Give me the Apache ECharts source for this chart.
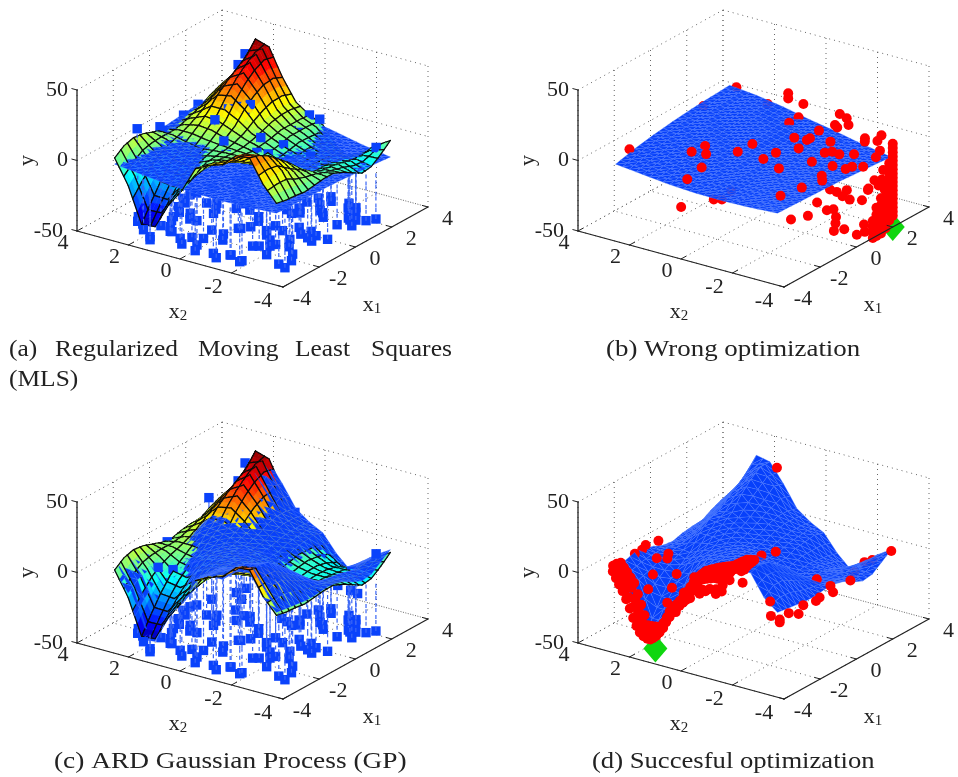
<!DOCTYPE html>
<html><head><meta charset="utf-8">
<style>html,body{margin:0;padding:0;background:#fff}#c{width:958px;height:777px}</style>
<script src="https://cdn.jsdelivr.net/npm/echarts@6/dist/echarts.min.js"></script></head>
<body><div id="c"></div>
<script>
// ---- tick labels ----
const x1Ticks=[-4,-2,0,2,4];
const x2Ticks=[4,2,0,-2,-4];
const yTicks=[-50,0,50];
// ---- surfaces: rows x1 from -pi to pi, columns x2 from pi to -pi ----
const trueSurface=[
[0,-17,-42,-41,-23,-10,8,13,16,25,26,10,-1],
[5,-10,-30,-30,-17,-6,6,11,15,22,24,12,-2.5],
[7,-4,-19,-20,-11,-3,4,8,11,17,20,12,-3],
[6,-1,-10,-12,-6,-1,2,4,6,10,14,7,-4],
[3.5,1,-4,-6,-3,-1,0,0,0,3,8,3,-3],
[1,2,1,-1,-1,-1,-1,-3,-4,-4,1,0,-2],
[0,4,6,5,2,0,-2,-5,-8,-9,-8,-4,-2],
[2,7,12,11,7,2,-1,-5,-9,-10,-9,-5,-5],
[3,10,20,22,15,5,0,-4,-7,-9,-9,-6,-9],
[3,13,26,31,21,8,2,-2,-6,-9,-10,-8,-13],
[7,17,31,38,25,10,2,-2,-7,-11,-11,-10,-12],
[10,20,36,43,26,10,2,-2,-9,-15,-14,-9,-7],
[12,24,45,42,23,8,1.5,-3,-15,-23,-14,-7,-1]];
const gpSurface=[
[-1,-14,-44,-43,-22,-11,9,14,14,22,24,9,1],
[3,-8,-33,-32,-19,-7,8,13,17,24,26,14,0],
[5,-6,-21,-22,-13,-1,8,12,14,20,24,14,-1],
[4,-3,-12,-14,-2,3,6,8,9,14,18,10,-2],
[2,-1,-6,-2,3,5,6,5,4,7,12,6,-2],
[-1,0,-1,3,5,6,5,3,1,0,5,3,-1],
[-2,2,9,9,7,6,4,-1,-5,-6,-5,-2,-1],
[0,5,15,14,11,6,2,-3,-11,-12,-11,-3,-3],
[1,8,17,19,14,8,3,-3,-9,-11,-11,-4,-7],
[1,11,23,28,19,12,5,0,-8,-11,-12,-6,-10],
[5,15,28,35,23,14,6,1,-9,-13,-13,-8,-9],
[8,18,33,40,29,14,6,2,-10,-16,-12,-6,-4],
[10,22,42,40,27,12,5,0,-12,-21,-12,-5,1]];
const mlsSurface=[
[-4.4,-6.5,-8.5,-9.6,-9.8,-9.2,-8],
[-1,-3.5,-6,-7.5,-8.5,-8.5,-8.5],
[1.5,-1,-3.5,-6,-7.5,-8.5,-9],
[3.5,1,-2,-4.5,-7,-8.5,-9.5],
[5,2.5,-.5,-3.5,-6.5,-8.8,-10.5],
[6,4,.8,-2.5,-6,-9,-11.5],
[7,5,2,-2,-5.5,-9.5,-12.7]];
// ---- blue samples lying low in the box: x1, x2 (height floorY) ----
const floorY=-44;
const lowSamples=[[1.68,-3.61],[1.39,-3.43],[1.24,-3.14],[.79,-3.3],[1.14,-2.98],[.59,-2.87],[1.61,-2.62],[2.07,-2.56],[2.24,-2.17],[2.35,-1.39],[1.6,-1.49],[1.13,-1.93],[.94,-1.18],[.52,-1.15],[-.3,-.45],[-1.12,-.72],[-1.41,-.54],[-1.09,-1.31],[-.6,-1.32],[-.8,-1.73],[-.28,-2.01],[-.7,-2.37],[-.33,-2.51],[-.53,-2.84],[-.82,-2.72],[-.97,-2.98],[-.56,-3.31],[-1.25,-2.33],[-1.76,-2.66],[-1.85,-2.2],[-1.66,-1.85],[-1.38,-1.52],[-2.06,-2.13],[-2.26,-1.85],[-2.38,-1.68],[-2.19,-3.1],[-2.65,-3.38],[-3.11,-3.21],[-3.24,-3.54],[-2.7,-2.45],[-3.55,-2.09],[-3.37,-1.54],[-.15,.52],[-.02,.09],
[-3.62,1.43],[-2.49,2.68],[-2.9,2.22],[-2.58,1.38],[-2.88,1.1],[-3.18,.57],[-3.53,.26],[-3.73,-.4],[-3.32,-.18],[-2.9,.31],[-2.76,-.04],[-2.05,.14],[-2.1,-.35],[-2.52,-.62],[-3.58,-1],[-3.82,-1.28],[-3.38,-1.51],[-1.45,-.47],[-3.66,-2.08],[-1.69,.97],[-1.32,1.49],[-.9,.88],[-.16,1.27],[-1.85,1.77],[-1.09,2.11],[-.44,2.37],
[1.71,1.83],[1.36,1.38],[2.18,1.77],[.53,1.03],[.3,.54],[.35,.34],[-.61,-.66],[.81,-.57],[.68,-.85],[.7,-1.35],[1.56,-1.01],[2.04,-1.12],[1.22,-1.76],[2.05,-1.61],[1.91,-2.37],[1.76,-2.77],[1.24,-2.85],[.84,-2.16],[1.02,-1.09],[.82,2.16],[-.57,1.02],[-.33,1.55],[.16,2.28],[-.08,2.37],[-.72,2.11],[-1.45,1.82],[-1.71,1.23],[-2.89,1.16],[-2.15,1.63],[-2.81,2.48],[-3.27,1.93],[-3.82,1.29],[-2.68,1.67]];
// ---- blue samples near the surface: x1, x2, y ----
const upperSamplesA=[[-2.1,3,14],[-1.7,3.1,-1],[.6,3.1,4],[-.7,3.1,5],[1.4,3.1,6],[.2,1.6,11],[.8,1.5,15],[-.7,3,3],[3,-.1,3],[3,-.5,2],[2,-.1,-1],[2.1,-.3,-2],[.6,.1,3],[1,-.5,-2],[.1,-.1,-3],[.3,-.4,-4],[2.7,-2.9,-4],[1.2,-1.4,-7],[.6,-1,-8],[-.3,.9,3],[-.6,.6,-3],[3,2.4,34],[2.9,2.6,26],[2.8,1.6,32],[1.3,1,17],[1.5,1.1,12],[1.1,1.2,16],[1,1,10]];
const upperSamplesC=[[2,3.1,15],[3,2.4,36],[2.9,2.1,29],[2.9,2.6,23],[2.8,1.6,30],[1.5,1,13],[1.1,1.3,11],[3.05,.5,10],[-.3,3.1,0],[-1.8,2.4,-4],[-1.4,2.1,-7],[-2.2,2.7,-7],[-1.2,1.4,-8],[-1.4,1.3,-12],[-.9,1.6,-4],[.1,.4,2],[.7,-.1,0],[1,-.5,-5],[1.2,-1,-10],[2,-1,-10],[2.2,-1.1,-9],[2.7,-2.9,0],[2.2,-2.3,-12],[3,-1.2,-33],[3,-1.7,-34],[3.1,-1.9,-36]];
// ---- red evaluations, wrong optimization: x1, x2, y ----
const redWrongScatter=[[3.79,3.33,0],[1.94,3.31,0],[-2.31,3.19,0],[-.71,1.38,0],[-1.24,.97,0],[-2.22,.45,0],[-1.34,1.46,0],[-3.27,.27,0],[-2.87,.79,-25],[-1.78,.29,-25],[-1.63,.08,-25],[-.91,.23,-25],[-.5,.26,0],[.28,.24,0],[-.52,-.75,0],[.13,-.78,0],[-.87,-1.6,0],[-2.67,-2.93,0],[-1.74,-3.1,0],[.18,-2.14,0],[.83,-1.17,0],[1.47,-.55,0],[2.38,.29,0],[2.91,.3,0],[3.24,1.73,0],[2.44,.37,20],[2.1,.13,20],[2,-.53,20],[3.88,-.62,0],[3.72,-1,0],[3.06,-1.01,0],[2.93,-1.19,0],[3.31,-1.36,0],[2.71,-2.42,0],[2.49,-2.57,0],[3.21,-2.71,0],[2.76,-2.87,0],[2.16,-3.39,0],[1.64,-3.6,0],[1.71,-.99,0],[1.54,-.99,0],[2.39,-.86,0],[1.86,-1.68,0],[1.02,-2.05,0],[1.22,-2.2,0],[1.17,-2.51,0],[1.44,-2.89,0],[.27,-2.88,0],[.31,-3.36,0],[.58,-3.42,0],[.78,-3.71,0],[-.58,-3.06,0],[-.9,-3.3,0],
[1.01,-2.26,-25],[-.1,-2.54,-25],[-1.71,-2.66,-25],[-1.16,-2.93,-25],[-.44,-3.16,-25],[-.25,-3.28,-25],[.97,-2.55,-25],[1.27,-2.73,-25],[.79,-2.9,-25],[.69,-3.25,-25],[-.72,-3.71,-25],[-1.16,-4,-25],[-.45,-3.84,-35],[-.75,-3.65,-35],[.36,-3.76,-45],[.87,-3.6,-25],[1.77,-3.22,-25],[2.44,-2.98,-25],[2.62,-3.14,-25],[1.87,-3.72,-10]];
const redColumnY=[9,6,3,0,-3,-6,-9,-12,-15,-18,-21,-24,-27,-30,-33,-36,-39,-42];
const redLump=[[.9,-4,-50],[.9,-4,-46],[.9,-4,-42],[.9,-4,-38],[1.1,-4,-50],[1.1,-4,-45],[1.1,-4,-40],[1.1,-4,-35],[1.1,-4,-30],[1.35,-4,-50],[1.35,-4,-45],[1.35,-4,-40],[1.35,-4,-35],[1.35,-4,-30],[1.35,-4,-25],[1.6,-4,-48],[1.6,-4,-44],[1.6,-4,-38],[1.6,-4,-32],[1.6,-4,-26],[1.6,-4,-20],[1.6,-4,-15],[1.8,-4,-44],[1.8,-4,-38],[1.8,-4,-32],[1.8,-4,-26],[1.8,-4,-20],[1.8,-4,-14],[1.8,-4,-10],[1.95,-3.9,-5],[1.7,-3.9,-22],[1.5,-3.8,-18],[1.2,-3.6,-20],[.7,-3.8,-40],[.6,-3.9,-44]];
// ---- red evaluations, successful optimization ----
const trailX2=[3.14,3.02,2.9,2.76,2.62,2.48,2.35,2.22,2.09,1.95,1.8,1.68,1.57,1.44,1.3,1.18,1.05,.92,.8,.66,.52,.39,.26,.13,0,-.13,-.26,-.39,-.52,-.66,-.8,-.92,-1.05,-1.18,-1.3,-1.44,-1.57,-1.7,-1.85];
const trailY=[0,-4,-8,-12,-17,-23,-29,-34,-38,-40,-41,-41,-39,-36,-32,-27,-23,-19,-16,-13,-10,-5,0,4,8,10,11,12,13,14,15,15,16,18,20,23,25,26,25];
const trailRowsX1=[-3.3,-3.14,-3,-2.86];
const trailLift=[0,0,3,5];
const innerRowsX1=[-2.72,-2.58];
const innerLift=[2.5,3];
const ridgeRowsX1=[-2.44,-2.3,-3.55];
const ridgeX2=[.52,.26,0,-.26,-.52,-.8,-1.05,-1.3,-1.57];
const ridgeLowY=[-14,-6,3,5,7,9,10,14,19];
const valleyX1=[-2.4,-2.2,-2,-1.8,-2,-1.5,-1.4,-1.7,-1.2,-2.5,-2.2];
const valleyX2=[2.4,1.8,2.5,1.9,1.3,2.7,2,1.1,2.5,1.2,1];
const redGoodScatter=[[3.14,-3.14,0],[3.14,-2.4,-10],[3.14,-2.1,-13],[3.14,-1.7,-22],[.8,-3.2,-4],[-.3,-3.2,0],[-.2,-2.6,1],[-.3,-3.3,-4],[-.9,-3.2,-4],[-1.1,-3.2,-5],[-1.8,-3.2,-3],[-2.2,-3.3,-6],[-2.6,-3.2,-3],[-3.1,-3.2,-4],[-3.1,-3.2,-6],[-3.3,-3,-1],[-3.2,-2.9,8],[-3.3,-1.9,17],[-.7,3.2,3],[-1.6,3.2,3],[-2,3.2,3],[-1.4,3.2,5],[-3,3.2,3],[-3.2,3.2,3],[-1,2.6,-1],[3.14,1.3,37],[.8,-.3,2],[.3,-.1,2],[-3.5,-.6,6],[-3.5,-1,6],[-3.6,-1.3,10],[-3.4,-.3,2],[-3.5,0,-2],[-3.3,.3,-6]];
// ---- optimum markers: x1, x2, y ----
const bestWrong=[2,-4,-50];
const bestGood=[-3.14,1.6,-48];

// ---- projection of the 3-D box onto each panel's hidden 2-D axes ----
const PI=Math.PI, FS='"Liberation Serif"', INK='#222';
const U=[145,80], V=[206,-56], ZS=1.41;
function proj(a,b,z){const u=(a+4)/8,v=(4-b)/8;return [U[0]*u+V[0]*v,U[1]*u+V[1]*v+ZS*(z+50)];}
function depth(a,b,z){const u=(a+4)/8,v=(4-b)/8;return -190*u+134*v+59.4*(z+50)/100;}
function clamp01(t){return Math.max(0,Math.min(1,t));}
function sample(g,a,b){
  const n=g.length-1,m=g[0].length-1;
  const p=clamp01((a+PI)/(2*PI))*n,q=clamp01((PI-b)/(2*PI))*m;
  const i=Math.min(n-1,Math.floor(p)),j=Math.min(m-1,Math.floor(q)),s=p-i,t=q-j;
  return g[i][j]*(1-s)*(1-t)+g[i+1][j]*s*(1-t)+g[i][j+1]*(1-s)*t+g[i+1][j+1]*s*t;
}
function jet(z){
  const t=clamp01((z+46)/92)*4;
  const r=clamp01(Math.min(t-1.5,4.5-t)),g=clamp01(Math.min(t-.5,3.5-t)),b=clamp01(Math.min(t+.5,2.5-t));
  return 'rgb('+Math.round(r*255)+','+Math.round(g*255)+','+Math.round(b*255)+')';
}
function addJetSurface(L,g,sub,every){
  const n=g.length-1,m=g[0].length-1,da=2*PI/n/sub,db=2*PI/m/sub,N=n*sub,M=m*sub;
  const P=(i,j)=>{const a=-PI+i*da,b=PI-j*db;return proj(a,b,sample(g,a,b));};
  for(let i=0;i<N;i++)for(let j=0;j<M;j++){
    const c=[P(i,j),P(i+1,j),P(i+1,j+1),P(i,j+1)];
    const ca=-PI+(i+.5)*da,cb=PI-(j+.5)*db,zm=sample(g,ca,cb),col=jet(zm);
    const edges=[];
    if(i%every===0)edges.push([c[0],c[3]]);
    if((i+1)%every===0||i===N-1)edges.push([c[1],c[2]]);
    if(j%every===0)edges.push([c[0],c[1]]);
    if((j+1)%every===0||j===M-1)edges.push([c[3],c[2]]);
    L.push({k:'poly',p:c,fill:col,stroke:col,w:.6,edges:edges,d:depth(ca,cb,zm)});
  }
}
function addBlueSurface(L,g,sub){
  const n=g.length-1,m=g[0].length-1,da=2*PI/n/sub,db=2*PI/m/sub,N=n*sub,M=m*sub;
  const P=(i,j)=>{const a=-PI+i*da,b=PI-j*db;return [a,b,sample(g,a,b)];};
  const tri=(A,B,C)=>L.push({k:'poly',p:[A,B,C].map(q=>proj(q[0],q[1],q[2])),fill:'#0740fa',stroke:'rgba(85,130,255,.65)',w:.45,
    d:depth((A[0]+B[0]+C[0])/3,(A[1]+B[1]+C[1])/3,(A[2]+B[2]+C[2])/3)});
  for(let i=0;i<N;i++)for(let j=0;j<M;j++){
    const A=P(i,j),B=P(i+1,j),C=P(i+1,j+1),D=P(i,j+1);
    tri(A,B,C);tri(A,C,D);
  }
}
function addSquares(L,pts,surf){
  pts.forEach(q=>{
    const a=q[0],b=q[1],z=q.length>2?q[2]:floorY,top=sample(surf,a,b);
    L.push({k:'square',c:proj(a,b,z),d:depth(a,b,z)+.5});
    const parts=4;
    for(let i=0;i<parts;i++){
      const z0=z+(top-z)*i/parts,z1=z+(top-z)*(i+1)/parts;
      L.push({k:'stem',p:[proj(a,b,z0),proj(a,b,z1)],d:depth(a,b,(z0+z1)/2)});
    }
  });
}
function addDots(L,pts,bias){pts.forEach(q=>L.push({k:'dot',c:proj(q[0],q[1],q[2]),d:depth(q[0],q[1],q[2])+bias}));}
function boxItems(){
  const B=[];const gl=(A,C)=>B.push({k:'dotted',p:[proj(A[0],A[1],A[2]),proj(C[0],C[1],C[2])]});
  x1Ticks.forEach(t=>{gl([t,-4,-50],[t,4,-50]);gl([t,4,-50],[t,4,50]);});
  x2Ticks.forEach(t=>{gl([-4,t,-50],[4,t,-50]);gl([4,t,-50],[4,t,50]);});
  yTicks.forEach(t=>{gl([-4,4,t],[4,4,t]);gl([4,4,t],[4,-4,t]);});
  return B;
}
function axisItems(){
  const A=[];const ax=(P,Q,w)=>A.push({k:'axis',p:[proj(P[0],P[1],P[2]),proj(Q[0],Q[1],Q[2])],w:w});
  ax([-4,4,-50],[-4,4,50],1.3);ax([-4,4,-50],[-4,-4,-50],1.2);ax([-4,-4,-50],[4,-4,-50],1.2);
  x2Ticks.forEach(t=>{ax([-4,t,-50],[-3.72,t,-50],1);
    A.push({k:'text',c:proj(-4,t,-50),t:String(t),ox:t<0?(t===-4?-20:-18):-14,oy:t<0?14:12.5,a:'center'});});
  x1Ticks.forEach(t=>{ax([t,-4,-50],[t,-3.78,-50],1);
    A.push({k:'text',c:proj(t,-4,-50),t:String(t),ox:t<0?19:19.5,oy:12.5,a:'center'});});
  yTicks.forEach(t=>{ax([-4,4,t],[-4,4.2,t],1);
    A.push({k:'text',c:proj(-4,4,t),t:String(t),ox:t===-50?-14:-9,oy:0,a:'right'});});
  A.push({k:'label',c:proj(-4,-4,-50),base:'x',sub:'2',ox:-105,oy:25});
  A.push({k:'label',c:proj(-4,-4,-50),base:'x',sub:'1',ox:89,oy:18});
  A.push({k:'ylabel',c:proj(-4,4,0),ox:-50,oy:0});
  return A;
}
function finish(L){L.sort((p,q)=>p.d-q.d);return boxItems().concat(L,axisItems());}
function withDiamond(L,best){L.splice(L.findIndex(o=>o.k==='dot'),0,{k:'diamond',c:proj(best[0],best[1],best[2])});return L;}

const listA=[];addJetSurface(listA,trueSurface,3,2);addBlueSurface(listA,mlsSurface,4);addSquares(listA,lowSamples.concat(upperSamplesA),mlsSurface);
const listB=[];addBlueSurface(listB,mlsSurface,4);
addDots(listB,redWrongScatter.concat(redColumnY.map(y=>[2,-4,y]),redLump),.5);
const listC=[];addJetSurface(listC,trueSurface,3,2);addBlueSurface(listC,gpSurface,2);addSquares(listC,lowSamples.concat(upperSamplesC),gpSurface);
const listD=[];addBlueSurface(listD,gpSurface,2);
const trailPts=[];
trailRowsX1.forEach((a,r)=>trailX2.forEach((b,i)=>{
  trailPts.push([a,b,a<=-3.14?trailY[i]+trailLift[r]:Math.max(sample(gpSurface,a,b),trailY[i])+trailLift[r]*.4]);
}));
innerRowsX1.forEach((a,r)=>trailX2.forEach(b=>{if(b<1.5)trailPts.push([a,b,sample(gpSurface,a,b)+innerLift[r]]);}));
ridgeRowsX1.forEach(a=>ridgeX2.forEach((b,i)=>{trailPts.push([a,b,a<-3?ridgeLowY[i]:sample(gpSurface,a,b)+2]);}));
valleyX1.forEach((a,i)=>trailPts.push([a,valleyX2[i],sample(gpSurface,a,valleyX2[i])+.5]));
addDots(listD,redGoodScatter.concat(trailPts),6);
const panels=[
 {dx:0,dy:0,items:finish(listA)},
 {dx:501,dy:0,items:withDiamond(finish(listB),bestWrong)},
 {dx:0,dy:412,items:finish(listC)},
 {dx:501,dy:412,items:withDiamond(finish(listD),bestGood)}
];
const BLUE='#0a42fb', RED='#ff0000';
function makeRender(items){return function(params,api){
  const o=items[params.dataIndex];
  if(o.k==='poly'){
    const poly={type:'polygon',silent:true,shape:{points:o.p.map(q=>api.coord(q))},style:{fill:o.fill,stroke:o.stroke,lineWidth:o.w}};
    if(!o.edges||!o.edges.length)return poly;
    const kids=[poly];
    o.edges.forEach(e=>{const a=api.coord(e[0]),b=api.coord(e[1]);
      kids.push({type:'line',silent:true,shape:{x1:a[0],y1:a[1],x2:b[0],y2:b[1]},style:{stroke:'#0b0b0b',lineWidth:1.25,lineCap:'round'}});});
    return {type:'group',silent:true,children:kids};
  }
  if(o.k==='axis'){const a=api.coord(o.p[0]),b=api.coord(o.p[1]);
    return {type:'line',silent:true,shape:{x1:a[0],y1:a[1],x2:b[0],y2:b[1]},style:{stroke:'#222',lineWidth:o.w,lineCap:'round'}};}
  if(o.k==='dotted'){const a=api.coord(o.p[0]),b=api.coord(o.p[1]);
    return {type:'line',silent:true,shape:{x1:a[0],y1:a[1],x2:b[0],y2:b[1]},style:{stroke:'#666',lineWidth:1,lineDash:[1,4]}};}
  if(o.k==='stem'){const a=api.coord(o.p[0]),b=api.coord(o.p[1]);
    return {type:'line',silent:true,shape:{x1:a[0],y1:a[1],x2:b[0],y2:b[1]},style:{stroke:'#3a66f5',lineWidth:1.2,lineDash:[4,3]}};}
  const c=api.coord(o.c);
  if(o.k==='square')return {type:'rect',silent:true,shape:{x:c[0]-4.7,y:c[1]-4.7,width:9.4,height:9.4},style:{fill:BLUE}};
  if(o.k==='dot')return {type:'circle',silent:true,shape:{cx:c[0],cy:c[1],r:5},style:{fill:RED}};
  if(o.k==='diamond')return {type:'polygon',silent:true,shape:{points:[[c[0],c[1]-14],[c[0]+12,c[1]],[c[0],c[1]+14],[c[0]-12,c[1]]]},style:{fill:'#0fd60f'}};
  if(o.k==='text')return {type:'text',silent:true,x:c[0]+o.ox,y:c[1]+o.oy,style:{text:o.t,font:'22px '+FS,fill:INK,align:o.a,verticalAlign:'middle'}};
  if(o.k==='label')return {type:'text',silent:true,x:c[0]+o.ox,y:c[1]+o.oy,style:{text:o.base+'{s|'+o.sub+'}',font:'22px '+FS,fill:INK,align:'center',verticalAlign:'middle',rich:{s:{font:'15px '+FS,fill:INK,padding:[8,0,0,0]}}}};
  if(o.k==='ylabel')return {type:'text',silent:true,x:c[0]+o.ox,y:c[1]+o.oy,rotation:PI/2,style:{text:'y',font:'22px '+FS,fill:INK,align:'center',verticalAlign:'middle'}};
};}
const grids=[],xAxes=[],yAxes=[],series=[];
panels.forEach((P,i)=>{
  grids.push({left:77+P.dx,top:10+P.dy,width:351,height:277,show:false});
  xAxes.push({type:'value',gridIndex:i,min:0,max:351,show:false});
  yAxes.push({type:'value',gridIndex:i,min:-56,max:221,show:false});
  series.push({type:'custom',xAxisIndex:i,yAxisIndex:i,coordinateSystem:'cartesian2d',clip:false,silent:true,animation:false,progressive:0,
    data:P.items.map((_,k)=>[k]),encode:{x:0,y:0},renderItem:makeRender(P.items)});
});
const captionWords=[
 ['(a)',9,350,1.06],['Regularized',55,350,1.06],['Moving',198,350,1.06],['Least',295,350,1.06],['Squares',371,350,1.065],['(MLS)',9,380,1.06],
 ['(b) Wrong optimization',606,350,1.12],['(c) ARD Gaussian Process (GP)',54,762,1.14],['(d) Succesful optimization',592,762,1.11]];
const chart=echarts.init(document.getElementById('c'),null,{renderer:'canvas'});
chart.setOption({animation:false,backgroundColor:'#fff',grid:grids,xAxis:xAxes,yAxis:yAxes,series:series,tooltip:{show:false},
  graphic:captionWords.map(w=>({type:'text',x:w[1],y:w[2],scaleX:w[3],silent:true,style:{text:w[0],font:'24px '+FS,fill:INK,verticalAlign:'middle'}}))});
</script></body></html>
